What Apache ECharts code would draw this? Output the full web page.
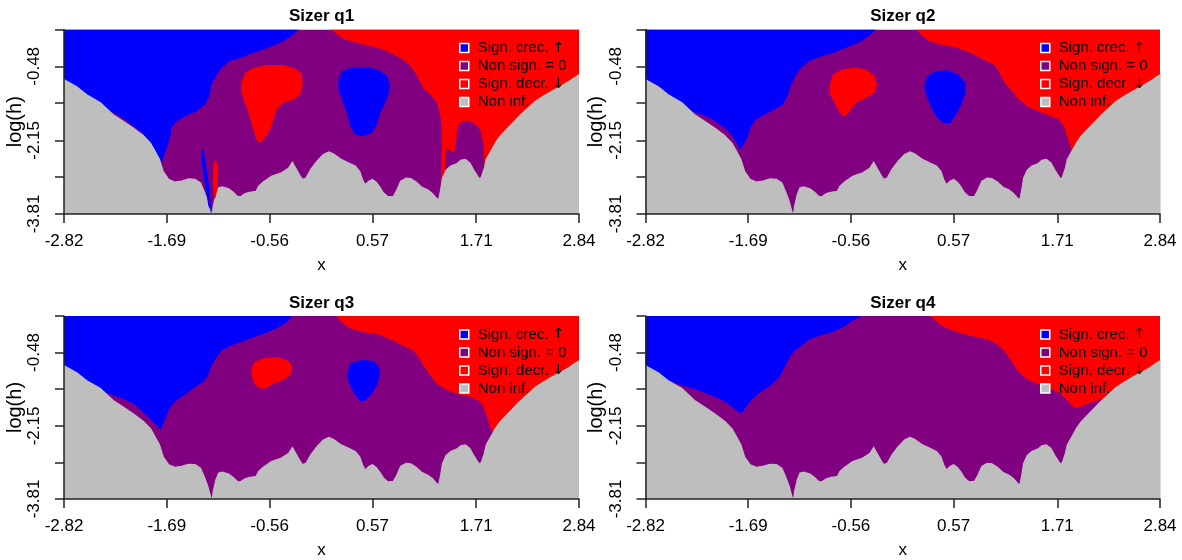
<!DOCTYPE html>
<html>
<head>
<meta charset="utf-8">
<script src="https://cdn.jsdelivr.net/npm/echarts@6/dist/echarts.min.js"></script>
<style>
  html, body { margin: 0; padding: 0; background: #ffffff; }
  #chart { width: 1182px; height: 560px; }
</style>
</head>
<body>
<div id="chart"></div>
<script>
// SiZer maps for four quantiles: x location vs log bandwidth.
const panelTitles = ['Sizer q1', 'Sizer q2', 'Sizer q3', 'Sizer q4'];
const categoryNames = ['Sign. crec. \u2191', 'Non sign. = 0', 'Sign. decr. \u2193', 'Non inf.'];
const categoryColors = ['#0000ff', '#800080', '#ff0000', '#bebebe'];

const xRange = [-2.82, 2.84];
const logHRange = [-3.81, 0.35];
const xTicks = [-2.82, -1.69, -0.56, 0.57, 1.71, 2.84];
const logHTicks = [-3.81, -2.98, -2.15, -1.31, -0.48, 0.35];
const logHLabels = [-3.81, -2.15, -0.48];

// Upper edge of the non-informative zone (same sample size in every panel).
const nonInfEdge = [
  [-2.82,-0.78],[-2.68,-0.94],[-2.57,-1.12],[-2.42,-1.30],[-2.28,-1.57],[-2.17,-1.72],[-2.06,-1.87],
  [-1.95,-2.04],[-1.87,-2.21],[-1.82,-2.39],[-1.77,-2.58],[-1.73,-2.85],[-1.67,-3.03],[-1.60,-3.09],
  [-1.53,-3.07],[-1.45,-3.02],[-1.38,-3.03],[-1.32,-3.11],[-1.28,-3.30],[-1.24,-3.52],[-1.21,-3.75],
  [-1.20,-3.81],[-1.19,-3.81],[-1.18,-3.64],[-1.15,-3.37],[-1.12,-3.22],[-1.08,-3.20],[-1.01,-3.24],
  [-0.96,-3.32],[-0.91,-3.42],[-0.88,-3.42],[-0.83,-3.35],[-0.78,-3.32],[-0.71,-3.30],[-0.68,-3.18],
  [-0.63,-3.09],[-0.54,-2.96],[-0.43,-2.88],[-0.35,-2.77],[-0.31,-2.64],[-0.28,-2.75],[-0.23,-2.93],
  [-0.20,-3.03],[-0.16,-3.00],[-0.11,-2.81],[-0.04,-2.62],[0.03,-2.47],[0.09,-2.41],[0.14,-2.45],
  [0.22,-2.57],[0.31,-2.66],[0.38,-2.73],[0.43,-2.85],[0.46,-3.03],[0.49,-3.15],[0.53,-3.07],
  [0.57,-3.03],[0.61,-3.09],[0.65,-3.20],[0.69,-3.33],[0.74,-3.42],[0.80,-3.41],[0.84,-3.26],
  [0.88,-3.07],[0.94,-3.00],[0.99,-3.01],[1.05,-3.09],[1.11,-3.20],[1.18,-3.27],[1.23,-3.35],
  [1.28,-3.47],[1.30,-3.47],[1.32,-3.26],[1.34,-3.00],[1.38,-2.82],[1.43,-2.73],[1.50,-2.67],
  [1.54,-2.60],[1.59,-2.58],[1.64,-2.66],[1.68,-2.81],[1.72,-2.94],[1.75,-3.03],[1.77,-2.96],
  [1.80,-2.77],[1.82,-2.58],[1.85,-2.47],[1.88,-2.36],[1.92,-2.21],[1.97,-2.06],[2.04,-1.91],
  [2.11,-1.76],[2.19,-1.59],[2.28,-1.42],[2.36,-1.27],[2.45,-1.15],[2.54,-1.04],[2.63,-0.94],
  [2.73,-0.82],[2.80,-0.72],[2.84,-0.67]
];

// ---- q1 ----
const q1Incr = [
  [-2.82,0.35],[-0.24,0.35],[-0.335,0.18],[-0.43,0.06],[-0.54,-0.03],[-0.63,-0.10],[-0.74,-0.18],
  [-0.885,-0.29],[-1.00,-0.36],[-1.09,-0.51],[-1.14,-0.67],[-1.20,-0.89],[-1.22,-1.15],[-1.27,-1.34],
  [-1.36,-1.49],[-1.47,-1.59],[-1.58,-1.72],[-1.64,-1.87],[-1.65,-2.06],[-1.69,-2.32],[-1.73,-2.54],
  [-1.755,-2.72],[-1.80,-2.50],[-1.87,-2.25],[-1.95,-2.00],[-2.05,-1.84],[-2.15,-1.68],[-2.28,-1.52],
  [-2.45,-1.40],[-2.82,-1.30]
];
const q1IncrBubble = [
  [0.196,-0.78],[0.233,-0.59],[0.325,-0.51],[0.508,-0.50],[0.636,-0.55],[0.728,-0.70],[0.765,-0.89],
  [0.746,-1.12],[0.71,-1.30],[0.655,-1.53],[0.618,-1.79],[0.563,-1.98],[0.471,-2.06],[0.38,-2.02],
  [0.325,-1.83],[0.288,-1.53],[0.233,-1.23],[0.196,-1.0]
];
const q1Decr = [
  [0.12,0.35],[0.18,0.24],[0.27,0.12],[0.40,0.05],[0.55,-0.03],[0.67,-0.09],[0.77,-0.18],[0.88,-0.29],
  [0.97,-0.44],[1.03,-0.59],[1.08,-0.78],[1.13,-0.97],[1.21,-1.12],[1.28,-1.30],[1.31,-1.53],
  [1.33,-1.83],[1.335,-2.13],[1.33,-2.5],[1.32,-3.1],[1.36,-3.1],[1.37,-2.5],[1.39,-2.32],[1.43,-2.39],
  [1.47,-2.42],[1.49,-2.13],[1.505,-1.87],[1.54,-1.74],[1.61,-1.70],[1.68,-1.76],[1.74,-1.87],
  [1.77,-2.02],[1.79,-2.28],[1.80,-2.6],[1.81,-3.0],[2.84,-3.0],[2.84,0.35]
];
const q1DecrBubble = [
  [-0.866,-0.82],[-0.83,-0.63],[-0.738,-0.51],[-0.591,-0.45],[-0.408,-0.45],[-0.298,-0.51],
  [-0.206,-0.64],[-0.195,-0.89],[-0.225,-1.12],[-0.298,-1.23],[-0.408,-1.30],[-0.481,-1.45],
  [-0.518,-1.68],[-0.555,-1.91],[-0.61,-2.09],[-0.665,-2.21],[-0.709,-2.13],[-0.738,-1.91],
  [-0.793,-1.53],[-0.848,-1.23],[-0.877,-1.0]
];
const q1IncrSpike = [
  [-1.313,-2.36],[-1.288,-2.34],[-1.258,-2.73],[-1.225,-3.18],[-1.207,-3.63],[-1.205,-3.80],
  [-1.215,-3.70],[-1.233,-3.63],[-1.269,-3.18],[-1.302,-2.73]
];
const q1DecrSpike = [
  [-1.178,-2.66],[-1.148,-2.58],[-1.123,-2.88],[-1.134,-3.26],[-1.159,-3.48],[-1.185,-3.18]
];

// ---- q2 ----
const q2Incr = [
  [-2.82,0.35],[-0.283,0.35],[-0.375,0.18],[-0.467,0.06],[-0.613,-0.06],[-0.76,-0.18],[-0.907,-0.27],
  [-1.017,-0.36],[-1.108,-0.51],[-1.163,-0.67],[-1.218,-0.89],[-1.255,-1.15],[-1.31,-1.34],
  [-1.401,-1.45],[-1.511,-1.57],[-1.603,-1.68],[-1.658,-1.83],[-1.695,-2.06],[-1.731,-2.21],
  [-1.775,-2.36],[-1.823,-2.21],[-1.878,-2.02],[-1.951,-1.87],[-2.08,-1.68],[-2.19,-1.57],
  [-2.30,-1.51],[-2.373,-1.39],[-2.82,-1.23]
];
const q2IncrBubble = [
  [0.249,-0.89],[0.278,-0.70],[0.37,-0.59],[0.498,-0.57],[0.626,-0.67],[0.70,-0.85],[0.70,-1.08],
  [0.663,-1.30],[0.608,-1.53],[0.535,-1.76],[0.461,-1.77],[0.388,-1.64],[0.333,-1.45],[0.286,-1.23],
  [0.253,-1.04]
];
const q2Decr = [
  [0.168,0.35],[0.205,0.24],[0.297,0.09],[0.425,0.01],[0.608,-0.06],[0.755,-0.18],[0.901,-0.33],
  [1.011,-0.44],[1.066,-0.59],[1.121,-0.82],[1.195,-1.0],[1.268,-1.19],[1.378,-1.38],[1.488,-1.49],
  [1.634,-1.60],[1.726,-1.68],[1.781,-1.83],[1.818,-2.06],[1.854,-2.28],[1.88,-2.6],[2.84,-2.6],
  [2.84,0.35]
];
const q2DecrBubble = [
  [-0.797,-0.93],[-0.76,-0.67],[-0.65,-0.54],[-0.503,-0.51],[-0.393,-0.55],[-0.302,-0.69],
  [-0.272,-0.89],[-0.302,-1.08],[-0.393,-1.19],[-0.503,-1.30],[-0.558,-1.45],[-0.613,-1.59],
  [-0.65,-1.60],[-0.694,-1.49],[-0.742,-1.30],[-0.789,-1.12]
];

// ---- q3 ----
const q3Incr = [
  [-2.82,0.35],[-0.309,0.35],[-0.375,0.20],[-0.467,0.09],[-0.595,-0.03],[-0.742,-0.14],[-0.888,-0.25],
  [-0.998,-0.33],[-1.09,-0.44],[-1.145,-0.59],[-1.2,-0.78],[-1.236,-1.0],[-1.291,-1.15],[-1.383,-1.27],
  [-1.475,-1.42],[-1.585,-1.57],[-1.64,-1.68],[-1.676,-1.83],[-1.713,-2.02],[-1.757,-2.24],
  [-1.805,-2.13],[-1.878,-1.98],[-1.951,-1.83],[-2.061,-1.64],[-2.171,-1.53],[-2.281,-1.45],
  [-2.391,-1.38],[-2.428,-1.34],[-2.82,-1.23]
];
const q3IncrBubble = [
  [0.295,-0.93],[0.325,-0.74],[0.398,-0.67],[0.508,-0.65],[0.60,-0.70],[0.647,-0.85],[0.647,-1.04],
  [0.618,-1.23],[0.563,-1.42],[0.49,-1.57],[0.435,-1.59],[0.38,-1.45],[0.332,-1.27],[0.299,-1.08]
];
const q3Decr = [
  [0.178,0.35],[0.215,0.24],[0.307,0.09],[0.435,-0.01],[0.618,-0.06],[0.765,-0.18],[0.911,-0.33],
  [1.021,-0.44],[1.076,-0.59],[1.131,-0.78],[1.205,-1.0],[1.278,-1.19],[1.388,-1.34],[1.498,-1.42],
  [1.645,-1.49],[1.736,-1.57],[1.791,-1.72],[1.828,-1.94],[1.864,-2.17],[1.894,-2.28],[1.92,-2.6],
  [2.84,-2.6],[2.84,0.35]
];
const q3DecrBubble = [
  [-0.76,-0.85],[-0.723,-0.69],[-0.613,-0.60],[-0.448,-0.59],[-0.338,-0.69],[-0.309,-0.85],
  [-0.338,-1.0],[-0.43,-1.12],[-0.522,-1.19],[-0.595,-1.29],[-0.668,-1.30],[-0.723,-1.21],
  [-0.753,-1.04]
];

// ---- q4 ----
const q4Incr = [
  [-2.82,0.35],[-0.448,0.35],[-0.54,0.24],[-0.65,0.09],[-0.76,-0.01],[-0.907,-0.10],[-1.017,-0.18],
  [-1.108,-0.33],[-1.181,-0.44],[-1.236,-0.59],[-1.291,-0.82],[-1.346,-1.04],[-1.42,-1.19],
  [-1.493,-1.30],[-1.585,-1.42],[-1.658,-1.57],[-1.713,-1.72],[-1.768,-1.87],[-1.823,-1.79],
  [-1.915,-1.64],[-2.006,-1.53],[-2.08,-1.47],[-2.19,-1.38],[-2.30,-1.30],[-2.41,-1.23],
  [-2.483,-1.19],[-2.556,-1.12],[-2.82,-1.0]
];
const q4Decr = [
  [0.315,0.35],[0.37,0.24],[0.443,0.12],[0.571,0.01],[0.755,-0.10],[0.938,-0.18],[1.048,-0.29],
  [1.14,-0.48],[1.213,-0.70],[1.286,-0.93],[1.378,-1.08],[1.488,-1.19],[1.634,-1.30],[1.744,-1.42],
  [1.818,-1.57],[1.873,-1.70],[1.928,-1.74],[2.001,-1.68],[2.074,-1.62],[2.148,-1.57],[2.20,-1.52],
  [2.30,-1.7],[2.84,-1.7],[2.84,0.35]
];

const panels = [
  { incr: [q1Incr, q1IncrBubble], decr: [q1Decr, q1DecrBubble], incrTop: [q1IncrSpike], decrTop: [q1DecrSpike] },
  { incr: [q2Incr, q2IncrBubble], decr: [q2Decr, q2DecrBubble], incrTop: [], decrTop: [] },
  { incr: [q3Incr, q3IncrBubble], decr: [q3Decr, q3DecrBubble], incrTop: [], decrTop: [] },
  { incr: [q4Incr], decr: [q4Decr], incrTop: [], decrTop: [] }
];

// Plot rectangles (px) for the 2x2 layout.
const gridBoxes = [
  { left: 64,    top: 29.5, width: 515,   height: 184.5 },
  { left: 645.5, top: 29.5, width: 514.5, height: 184.5 },
  { left: 64,    top: 316,  width: 515,   height: 184 },
  { left: 645.5, top: 316,  width: 514.5, height: 184 }
];

const FONT = "'Liberation Sans', Arial, Helvetica, sans-serif";
const AXIS_COLOR = '#222';

const fullRect = [
  [xRange[0], logHRange[0]], [xRange[0], logHRange[1]],
  [xRange[1], logHRange[1]], [xRange[1], logHRange[0]]
];
const nonInfPolygon = [[xRange[0], logHRange[0]]].concat(nonInfEdge, [[xRange[1], logHRange[0]]]);

function polygonSeries(name, color, polys, gridIndex, z, strokeWidth) {
  return {
    type: 'custom',
    name: name,
    coordinateSystem: 'cartesian2d',
    xAxisIndex: gridIndex,
    yAxisIndex: gridIndex,
    z: z,
    silent: true,
    clip: true,
    animation: false,
    itemStyle: { color: color },
    data: polys.map(p => p[0]),
    renderItem: function (params, api) {
      const pts = polys[params.dataIndex].map(pt => api.coord(pt));
      return {
        type: 'polygon',
        shape: { points: pts },
        style: strokeWidth
          ? { fill: color, stroke: color, lineWidth: strokeWidth }
          : { fill: color }
      };
    }
  };
}

const series = [];
panels.forEach((p, i) => {
  series.push(polygonSeries(categoryNames[1], categoryColors[1], [fullRect], i, 1, 0));
  series.push(polygonSeries(categoryNames[0], categoryColors[0], p.incr, i, 2, 0));
  series.push(polygonSeries(categoryNames[2], categoryColors[2], p.decr, i, 2, 0));
  series.push(polygonSeries(categoryNames[3], categoryColors[3], [nonInfPolygon], i, 3, 1.2));
  if (p.incrTop.length) series.push(polygonSeries(categoryNames[0], categoryColors[0], p.incrTop, i, 4, 0));
  if (p.decrTop.length) series.push(polygonSeries(categoryNames[2], categoryColors[2], p.decrTop, i, 4, 0));
});

const grids = gridBoxes.map(b => ({ left: b.left, top: b.top, width: b.width, height: b.height, containLabel: false }));

const xAxes = gridBoxes.map((b, i) => ({
  type: 'value', gridIndex: i, min: xRange[0], max: xRange[1], z: 10,
  name: 'x', nameLocation: 'middle', nameGap: 43,
  nameTextStyle: { fontFamily: FONT, fontSize: 17, color: '#000' },
  axisLine: { show: true, onZero: false, lineStyle: { color: AXIS_COLOR, width: 1.5 } },
  axisTick: { show: true, inside: false, length: 9, customValues: xTicks, lineStyle: { color: AXIS_COLOR, width: 1.5 } },
  axisLabel: { show: true, customValues: xTicks, margin: 19, fontFamily: FONT, fontSize: 17, color: '#000',
    showMinLabel: true, showMaxLabel: true, formatter: v => Number(v).toFixed(2) },
  splitLine: { show: false }
}));

const yAxes = gridBoxes.map((b, i) => ({
  type: 'value', gridIndex: i, min: logHRange[0], max: logHRange[1], z: 10,
  name: 'log(h)', nameLocation: 'middle', nameGap: 39,
  nameTextStyle: { fontFamily: FONT, fontSize: 20, color: '#000' },
  axisLine: { show: true, onZero: false, lineStyle: { color: AXIS_COLOR, width: 1.5 } },
  axisTick: { show: true, inside: false, length: 9, customValues: logHTicks, lineStyle: { color: AXIS_COLOR, width: 1.5 } },
  axisLabel: { show: true, customValues: logHLabels, rotate: 90, margin: 21, fontFamily: FONT, fontSize: 17, color: '#000',
    showMinLabel: true, showMaxLabel: true, formatter: v => Number(v).toFixed(2) },
  splitLine: { show: false }
}));

// Arrow glyphs in the legend use a font that has full-size arrows.
const legends = gridBoxes.map(b => ({
  orient: 'vertical',
  left: b.left + b.width - 120,
  top: b.top + 10.5,
  padding: 0,
  itemGap: 2,
  itemWidth: 9,
  itemHeight: 9,
  icon: 'rect',
  selectedMode: false,
  formatter: name => name.replace(/([\u2191\u2193])/, '{arr|$1}'),
  textStyle: {
    fontFamily: FONT, fontSize: 15, color: '#000', lineHeight: 16, padding: [0, 0, 0, 4],
    rich: { arr: { fontFamily: "'DejaVu Sans', sans-serif", fontSize: 14, color: '#000', lineHeight: 16 } }
  },
  data: categoryNames.map((n, k) => ({
    name: n,
    itemStyle: { color: categoryColors[k], borderColor: '#ffffff', borderWidth: 1.5 }
  }))
}));

const titles = gridBoxes.map((b, i) => ({
  type: 'text',
  x: b.left + b.width / 2,
  y: b.top - 21.5,
  style: { text: panelTitles[i], font: 'bold 17px ' + FONT, fill: '#000', textAlign: 'center', textVerticalAlign: 'top' },
  silent: true
}));

const chart = echarts.init(document.getElementById('chart'), null, { renderer: 'canvas' });
chart.setOption({
  backgroundColor: '#ffffff',
  animation: false,
  grid: grids,
  xAxis: xAxes,
  yAxis: yAxes,
  legend: legends,
  graphic: { elements: titles },
  series: series
});
</script>
</body>
</html>
